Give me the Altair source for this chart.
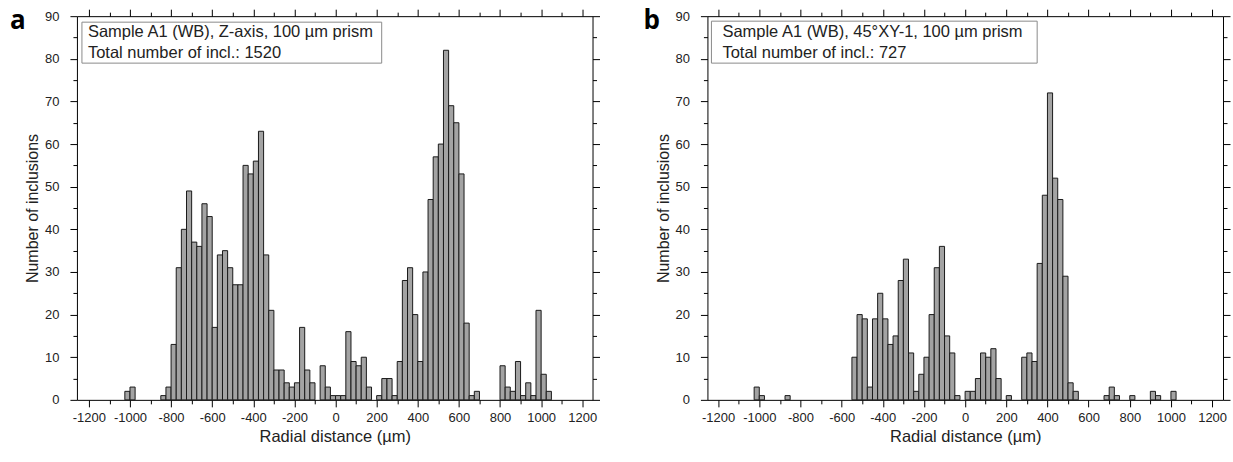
import altair as alt
import pandas as pd

BIN = 25  # bin width in micrometres

# Panel a: Sample A1 (WB), Z-axis -- bin left edges and counts
a_left = [-1025, -1000, -850, -825, -800, -775, -750, -725, -700, -675, -650, -625,
          -600, -575, -550, -525, -500, -475, -450, -425, -400, -375, -350, -325,
          -300, -275, -250, -225, -200, -175, -150, -125, -75, -50, -25, 0, 25, 50,
          75, 100, 125, 150, 200, 225, 250, 275, 300, 325, 350, 375, 400, 425, 450,
          475, 500, 525, 550, 575, 600, 625, 650, 675, 800, 825, 850, 875, 900, 925,
          950, 975, 1000, 1025]
a_count = [2, 3, 1, 3, 13, 31, 40, 49, 37, 36, 46, 43,
           17, 34, 35, 31, 27, 27, 55, 53, 56, 63, 34, 21,
           7, 7, 4, 3, 4, 17, 7, 4, 8, 3, 1, 1, 1, 16,
           9, 8, 10, 3, 1, 5, 5, 1, 9, 28, 31, 20, 9, 30, 47,
           57, 60, 82, 69, 65, 53, 18, 1, 2, 8, 3, 2, 9, 1, 4,
           1, 21, 6, 2]

# Panel b: Sample A1 (WB), 45°XY-1
b_left = [-1025, -1000, -875, -550, -525, -500, -475, -450, -425, -400, -375, -350,
          -325, -300, -275, -250, -225, -200, -175, -150, -125, -100, -75, -50, 0, 25,
          50, 75, 100, 125, 150, 200, 275, 300, 325, 350, 375, 400, 425, 450, 475, 500,
          525, 675, 700, 725, 800, 900, 925, 1000]
b_count = [3, 1, 1, 10, 20, 19, 3, 19, 25, 19, 13, 15,
           28, 33, 11, 2, 6, 10, 20, 31, 36, 15, 11, 1, 2, 2,
           5, 11, 10, 12, 5, 1, 10, 11, 9, 32, 48, 72, 52, 47, 29, 4,
           2, 1, 3, 1, 1, 2, 1, 2]

major_x = list(range(-1200, 1201, 200))
minor_x = list(range(-1100, 1101, 200))
major_y = list(range(0, 91, 10))
minor_y = list(range(5, 90, 10))

FONT = "Liberation Sans"
TXT = "#222222"
W, H = 516, 384


def panel(left, count, xdom, letter, letter_x, line1, line2, box, text_x):
    df = pd.DataFrame({"x0": left, "count": count})
    df["x1"] = df["x0"] + BIN
    xs = alt.Scale(domain=xdom, nice=False, zero=False)
    ys = alt.Scale(domain=[0, 90], nice=False, zero=True)
    lab = "'' + datum.value"

    bars = alt.Chart(df).mark_rect(fill="#a3a3a3", stroke="#1a1a1a", strokeWidth=1).encode(
        x=alt.X("x0:Q", scale=xs, axis=alt.Axis(
            orient="bottom", values=major_x, tickSize=7, labelPadding=5,
            labelExpr=lab, labelFlush=False, labelOverlap=False,
            title="Radial distance (µm)", titleY=29, titleBaseline="top",
            titleFontSize=16.5)),
        x2="x1:Q",
        y=alt.Y("count:Q", scale=ys, axis=alt.Axis(
            orient="left", values=major_y, tickSize=7, labelPadding=11,
            labelExpr=lab, labelFlush=False, labelOverlap=False,
            title="Number of inclusions", titleX=-36, titleY=H / 2,
            titleBaseline="bottom", titleFontSize=16)),
        y2=alt.datum(0),
    )
    minor_bl = alt.Chart(df).mark_point(opacity=0).encode(
        x=alt.X("x0:Q", scale=xs, axis=alt.Axis(
            orient="bottom", values=minor_x, tickSize=4, labels=False,
            domain=False, title=None)),
        y=alt.Y("count:Q", scale=ys, axis=alt.Axis(
            orient="left", values=minor_y, tickSize=4, labels=False,
            domain=False, title=None)),
    )
    major_tr = alt.Chart(df).mark_point(opacity=0).encode(
        x=alt.X("x0:Q", scale=xs, axis=alt.Axis(
            orient="top", values=major_x, tickSize=7, labels=False, title=None)),
        y=alt.Y("count:Q", scale=ys, axis=alt.Axis(
            orient="right", values=major_y, tickSize=7, labels=False, title=None)),
    )
    minor_tr = alt.Chart(df).mark_point(opacity=0).encode(
        x=alt.X("x0:Q", scale=xs, axis=alt.Axis(
            orient="top", values=minor_x, tickSize=4, labels=False,
            domain=False, title=None)),
        y=alt.Y("count:Q", scale=ys, axis=alt.Axis(
            orient="right", values=minor_y, tickSize=4, labels=False,
            domain=False, title=None)),
    )

    one = pd.DataFrame({"v": [0]})
    rect = alt.Chart(one).mark_rect(fill="white", stroke="#8a8a8a", strokeWidth=1).encode(
        x=alt.value(box[0]), x2=alt.value(box[1]),
        y=alt.value(box[2]), y2=alt.value(box[3]),
    )
    t1 = alt.Chart(one).mark_text(text=line1, font=FONT, fontSize=16.5, color=TXT,
                                  align="left", baseline="alphabetic").encode(
        x=alt.value(text_x), y=alt.value(21))
    t2 = alt.Chart(one).mark_text(text=line2, font=FONT, fontSize=16.5, color=TXT,
                                  align="left", baseline="alphabetic").encode(
        x=alt.value(text_x), y=alt.value(41.5))
    letter_mark = alt.Chart(one).mark_text(text=letter, font="Open Sans", fontSize=26,
                                           fontWeight="bold", color="black",
                                           align="left", baseline="alphabetic").encode(
        x=alt.value(letter_x), y=alt.value(12.5))

    return alt.layer(bars, minor_bl, major_tr, minor_tr, rect, t1, t2, letter_mark).resolve_axis(
        x="independent", y="independent"
    ).properties(width=W, height=H)


pa = panel(a_left, a_count, [-1258, 1250], "a", -67,
           "Sample A1 (WB), Z-axis, 100 µm prism", "Total number of incl.: 1520",
           (5, 305, 6, 47), 11)
pb = panel(b_left, b_count, [-1252, 1253], "b", -64,
           "Sample A1 (WB), 45°XY-1, 100 µm prism", "Total number of incl.: 727",
           (4, 330, 5, 47), 15)

chart = alt.hconcat(pa, pb).properties(
    padding={"left": 10, "top": 7, "right": 2, "bottom": 2}
).configure_axis(
    domainColor="black", tickColor="black", domainWidth=1, tickWidth=1,
    labelFont=FONT, labelFontSize=13, labelColor=TXT,
    titleFont=FONT, titleFontSize=15, titleFontWeight="normal", titleColor=TXT,
    grid=False,
).configure_view(stroke=None).configure_concat(spacing=43)

chart.save("out.html", embed_options={"renderer": "svg", "actions": False})
